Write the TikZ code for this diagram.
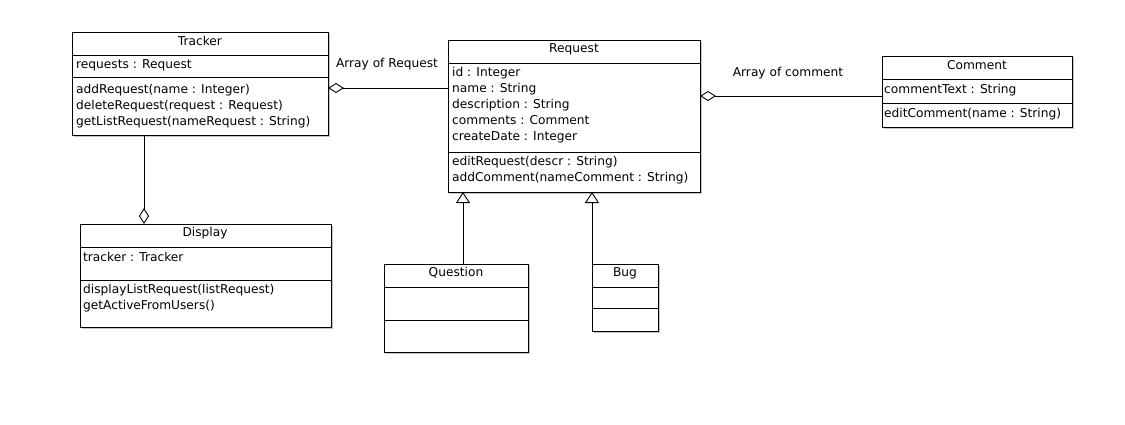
\documentclass[tikz,border=0pt]{standalone}
\usepackage{fontspec}
\setmainfont{DejaVu Sans}
\usetikzlibrary{arrows.meta,shadows}

\tikzset{
  umlclass/.style={draw, fill=white, line width=0.9pt, anchor=north west,
    inner sep=0pt, outer sep=0pt,
    general shadow={fill=black!22, shadow xshift=1.5pt, shadow yshift=-1.5pt}},
  classname/.style={font=\fontsize{12.2}{16}\selectfont, inner sep=0pt,
    text height=8.8pt, text depth=0pt},
  members/.style={font=\fontsize{12.2}{16}\selectfont, align=left,
    anchor=west, inner sep=0pt},
  divider/.style={line width=0.9pt},
  agg/.style={line width=0.9pt, -{Diamond[open, length=16pt, width=10pt]}},
  inherit/.style={line width=0.9pt, -{Triangle[open, length=11pt, width=14pt]}}
}

\begin{document}
\begin{tikzpicture}[x=1pt, y=-1pt]
  \fill[white] (0,0) rectangle (1125,424);
  \useasboundingbox (0,0) rectangle (1125,424);

  \node[umlclass, minimum width=256pt, minimum height=103pt] (tracker) at (72,32) {};
  \node[umlclass, minimum width=252pt, minimum height=152pt] (request) at (448,40) {};
  \node[umlclass, minimum width=190pt, minimum height=71pt] (comment) at (882,56) {};
  \node[umlclass, minimum width=251pt, minimum height=103pt] (display) at (80,224) {};
  \node[umlclass, minimum width=144pt, minimum height=88pt] (question) at (384,264) {};
  \node[umlclass, minimum width=66pt, minimum height=67pt] (bug) at (592,264) {};

  \draw[divider] (tracker.west |- 0,55) -- (tracker.east |- 0,55);
  \draw[divider] (tracker.west |- 0,77) -- (tracker.east |- 0,77);
  \draw[divider] (request.west |- 0,63) -- (request.east |- 0,63);
  \draw[divider] (request.west |- 0,152) -- (request.east |- 0,152);
  \draw[divider] (comment.west |- 0,79) -- (comment.east |- 0,79);
  \draw[divider] (comment.west |- 0,103) -- (comment.east |- 0,103);
  \draw[divider] (display.west |- 0,247) -- (display.east |- 0,247);
  \draw[divider] (display.west |- 0,280) -- (display.east |- 0,280);
  \draw[divider] (question.west |- 0,287) -- (question.east |- 0,287);
  \draw[divider] (question.west |- 0,320) -- (question.east |- 0,320);
  \draw[divider] (bug.west |- 0,287) -- (bug.east |- 0,287);
  \draw[divider] (bug.west |- 0,308) -- (bug.east |- 0,308);

  \node[classname] (trackerName) at (200,41) {Tracker};
  \node[members] (trackerAttr) at (76,65) {requests : Request};
  \node[members] (trackerOps) at (76,106) {addRequest(name : Integer)\\
    deleteRequest(request : Request)\\getListRequest(nameRequest : String)};

  \node[classname] (requestName) at (574,48) {Request};
  \node[members] (requestAttr) at (452,105) {id : Integer\\name : String\\
    description : String\\comments : Comment\\createDate : Integer};
  \node[members] (requestOps) at (452,170) {editRequest(descr : String)\\
    addComment(nameComment : String)};

  \node[classname] (commentName) at (977,65) {Comment};
  \node[members] (commentAttr) at (884,90) {commentText : String};
  \node[members] (commentOps) at (884,114) {editComment(name : String)};

  \node[classname] (displayName) at (205,232) {Display};
  \node[members] (displayAttr) at (83,257) {tracker : Tracker};
  \node[members] (displayOps) at (83,298) {displayListRequest(listRequest)\\
    getActiveFromUsers()};

  \node[classname] (questionName) at (456,272) {Question};
  \node[classname] (bugName) at (625,272) {Bug};

  \draw[agg] (request.west |- 0,88) -- (tracker.east |- 0,88);
  \draw[agg] (comment.west |- 0,96) -- (request.east |- 0,96);
  \draw[agg] (tracker.south -| 144,0) -- (display.north -| 144,0);
  \draw[inherit] (question.north -| 463,0) -- (request.south -| 463,0);
  \draw[inherit] (bug.north west) -- (bug.north west |- request.south);

  \node[classname] (reqLabel) at (387,63) {Array of Request};
  \node[classname] (comLabel) at (788,72) {Array of comment};
\end{tikzpicture}
\end{document}
